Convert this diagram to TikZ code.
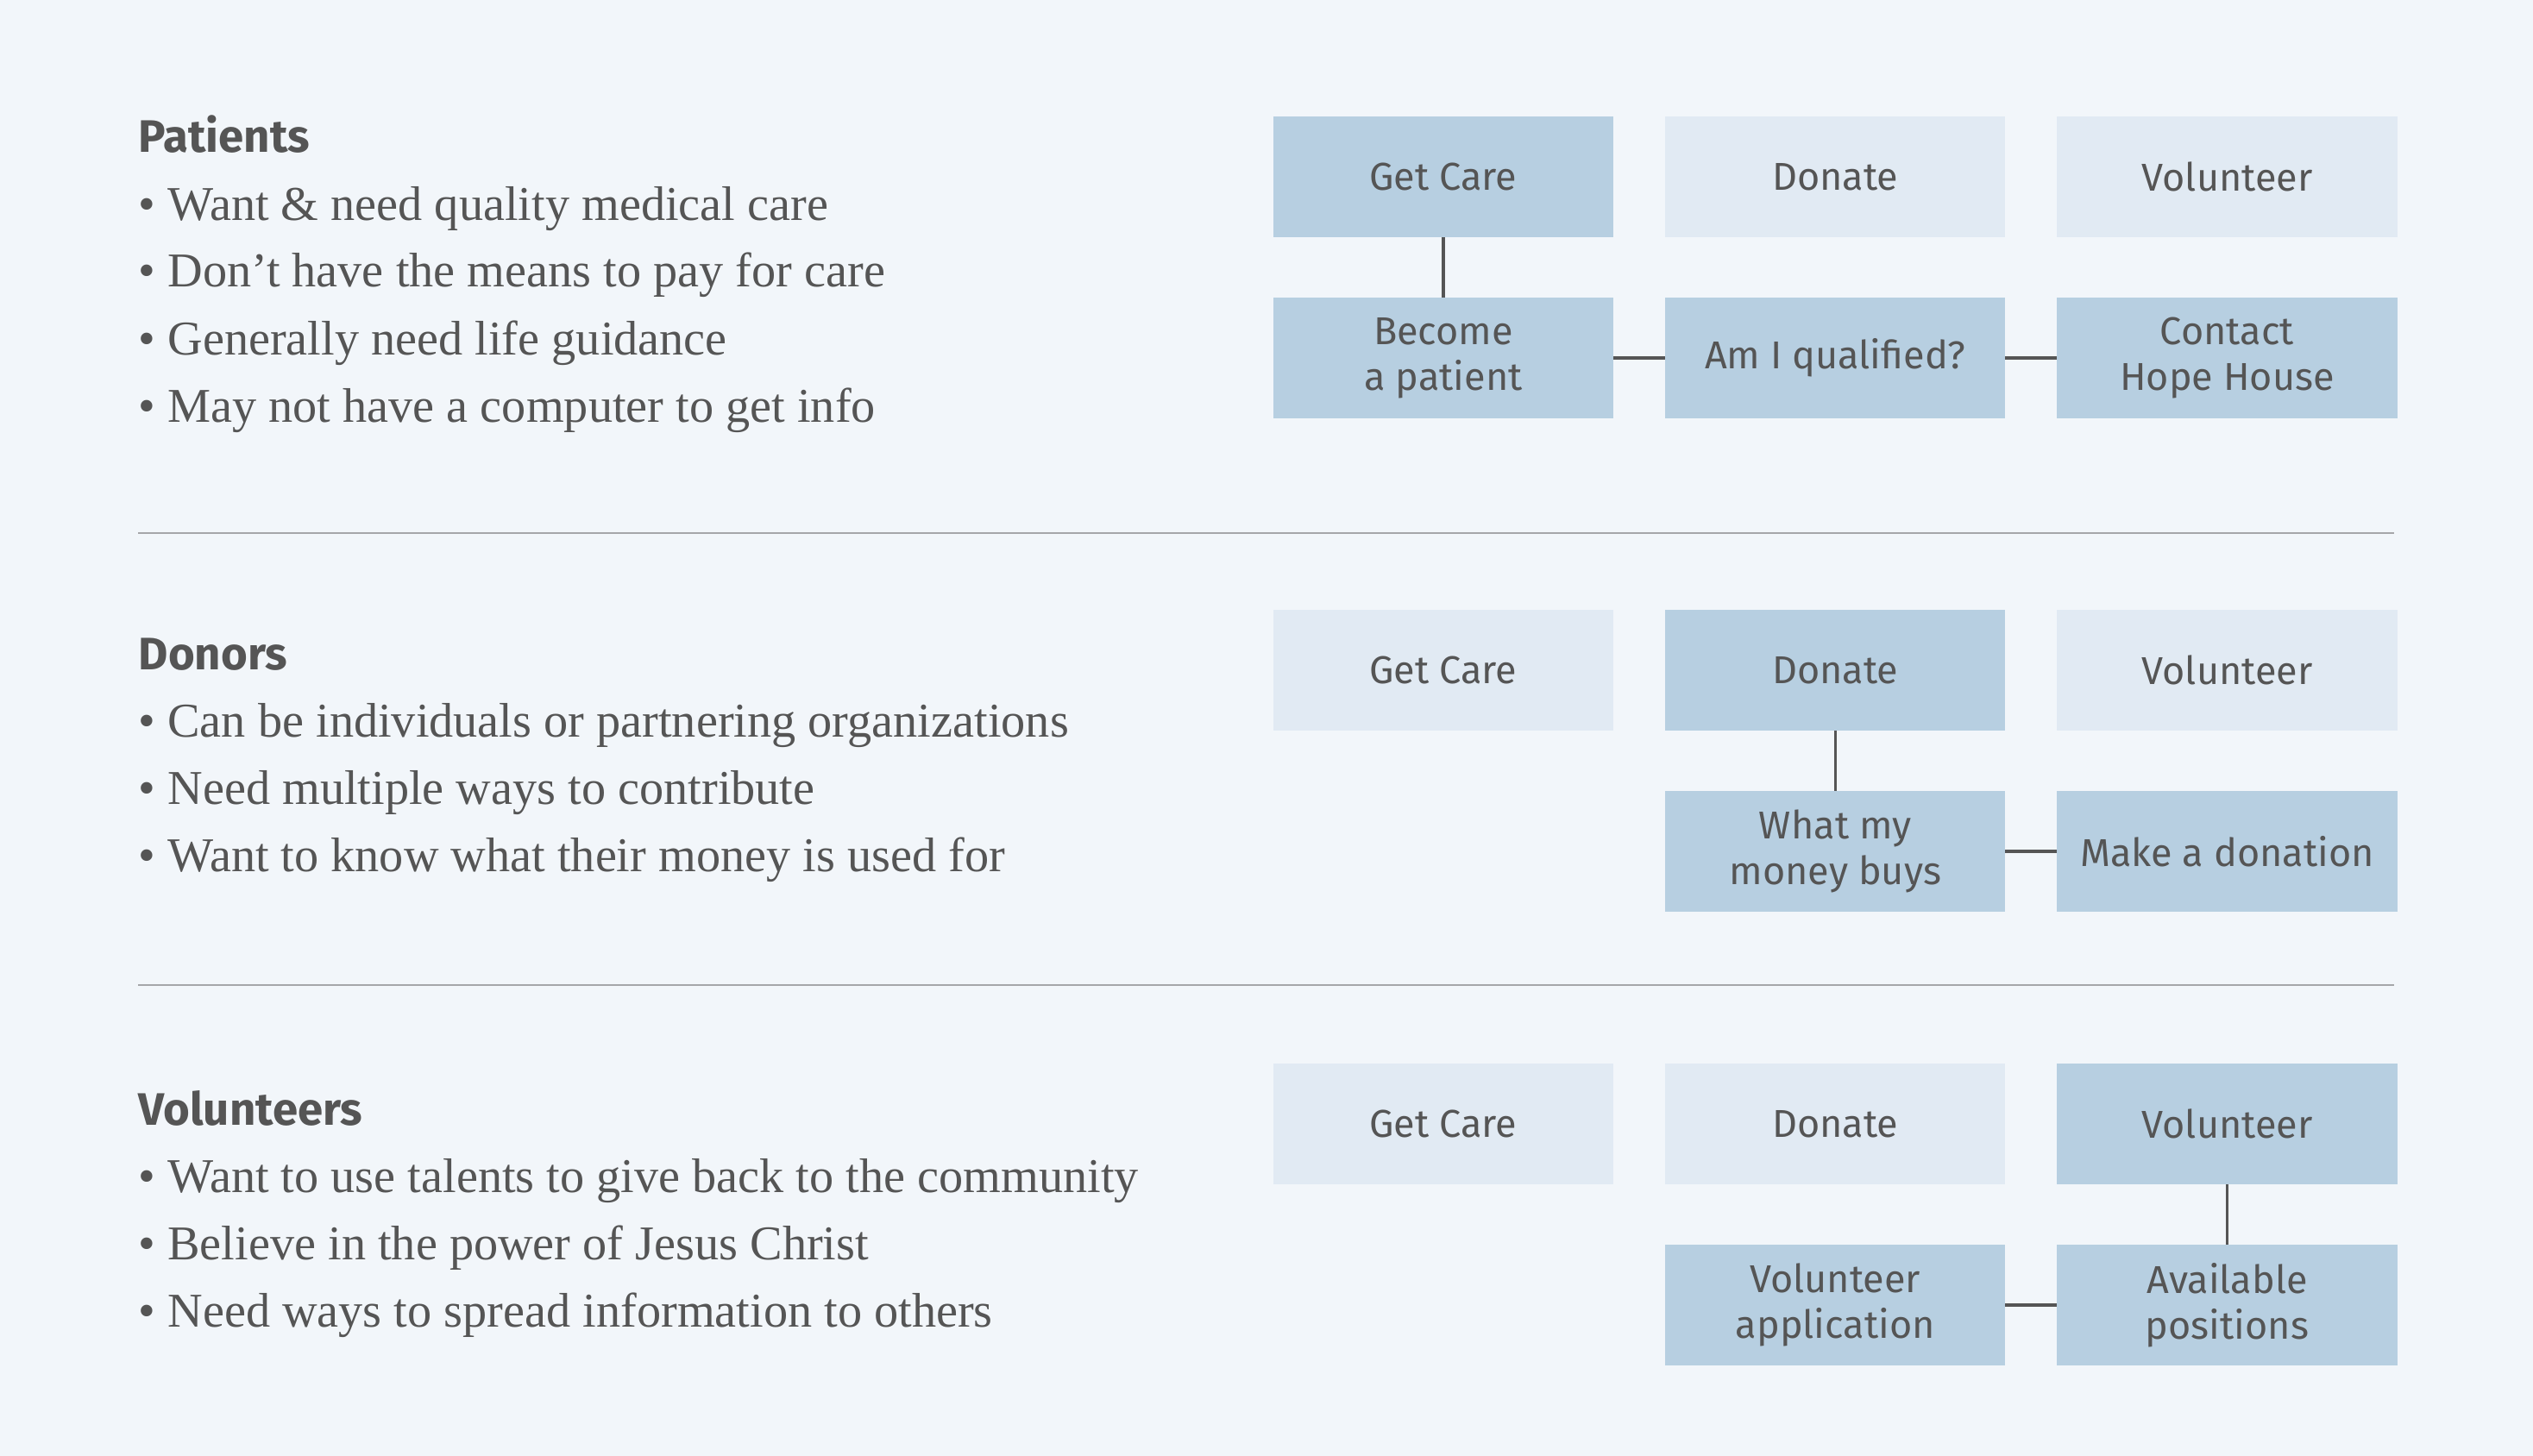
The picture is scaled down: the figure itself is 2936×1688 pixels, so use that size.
\documentclass[tikz,border=0pt]{standalone}
\usepackage{fontspec}
\setmainfont{Liberation Serif}
\newfontfamily\boxfont{Fira Sans}
\usepackage{tikz}
\usetikzlibrary{positioning}
\definecolor{colorBg}{RGB}{242,246,250}
\definecolor{colorActive}{RGB}{183,207,225}
\definecolor{colorIdle}{RGB}{225,234,243}
\definecolor{colorText}{RGB}{85,85,85}
\definecolor{colorRule}{RGB}{165,166,169}
\tikzset{
  box/.style={rectangle, minimum width=3.94cm, minimum height=1.4cm, inner sep=0pt, outer sep=0pt, align=center, text=colorText, font=\boxfont\fontsize{12.8}{15}\selectfont},
  boxOn/.style={box, fill=colorActive},
  boxOff/.style={box, fill=colorIdle},
  headText/.style={anchor=base west, inner sep=0pt, text=colorText, font=\boxfont\bfseries\fontsize{15}{18}\selectfont},
  bulletText/.style={anchor=base west, inner sep=0pt, text=colorText, font=\fontsize{16}{19}\selectfont},
  linkLine/.style={draw=colorText, line width=1pt},
  sepRule/.style={draw=colorRule, line width=0.6pt}
}

\begin{document}
\begin{tikzpicture}[x=0.01cm, y=-0.01cm, node distance=0.6cm]
\fill[colorBg] (0,0) rectangle (2936,1688);
\useasboundingbox (0,0) rectangle (2936,1688);

% patients
\node[headText] (patHead) at (160,177) {Patients};
\node[bulletText] (pat1) at (160,255) {\textbullet\ Want \& need quality medical care};
\node[bulletText] (pat2) at (160,333) {\textbullet\ Don’t have the means to pay for care};
\node[bulletText] (pat3) at (160,411) {\textbullet\ Generally need life guidance};
\node[bulletText] (pat4) at (160,489) {\textbullet\ May not have a computer to get info};
\node[boxOn] (patCare) at (1673,205) {Get Care};
\node[boxOff, right=of patCare] (patDonate) {Donate};
\node[boxOff, right=of patDonate] (patVol) {Volunteer};
\node[boxOn, below=0.7cm of patCare] (patBecome) {Become\\a patient};
\node[boxOn, right=of patBecome] (patQual) {Am I qualified?};
\node[boxOn, right=of patQual] (patContact) {Contact\\Hope House};
\draw[linkLine] (patCare) -- (patBecome);
\draw[linkLine] (patBecome) -- (patQual);
\draw[linkLine] (patQual) -- (patContact);

\draw[sepRule] (160,618) -- (2775,618);

% donors
\node[headText] (donHead) at (160,776) {Donors};
\node[bulletText] (don1) at (160,854) {\textbullet\ Can be individuals or partnering organizations};
\node[bulletText] (don2) at (160,932) {\textbullet\ Need multiple ways to contribute};
\node[bulletText] (don3) at (160,1010) {\textbullet\ Want to know what their money is used for};
\node[boxOff] (donCare) at (1673,777) {Get Care};
\node[boxOn, right=of donCare] (donDonate) {Donate};
\node[boxOff, right=of donDonate] (donVol) {Volunteer};
\node[boxOn, below=0.7cm of donDonate] (donBuys) {What my\\money buys};
\node[boxOn, right=of donBuys] (donMake) {Make a donation};
\draw[linkLine] (donDonate) -- (donBuys);
\draw[linkLine] (donBuys) -- (donMake);

\draw[sepRule] (160,1142) -- (2775,1142);

% volunteers
\node[headText] (volHead) at (160,1304) {Volunteers};
\node[bulletText] (vol1) at (160,1382) {\textbullet\ Want to use talents to give back to the community};
\node[bulletText] (vol2) at (160,1460) {\textbullet\ Believe in the power of Jesus Christ};
\node[bulletText] (vol3) at (160,1538) {\textbullet\ Need ways to spread information to others};
\node[boxOff] (volCare) at (1673,1303) {Get Care};
\node[boxOff, right=of volCare] (volDonate) {Donate};
\node[boxOn, right=of volDonate] (volVol) {Volunteer};
\node[boxOn, below=0.7cm of volVol] (volPos) {Available\\positions};
\node[boxOn, left=of volPos] (volApp) {Volunteer\\application};
\draw[linkLine] (volVol) -- (volPos);
\draw[linkLine] (volApp) -- (volPos);
\end{tikzpicture}
\end{document}
